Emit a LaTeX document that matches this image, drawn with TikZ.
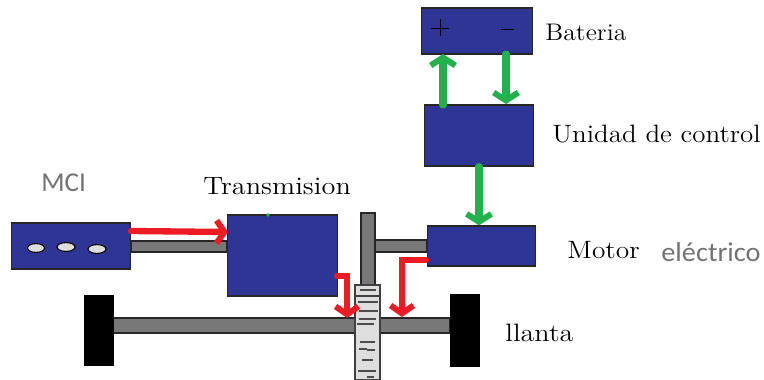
\documentclass[tikz,border=0pt]{standalone}
\usepackage{fontspec}
\usepackage{tikz}
\setsansfont{Carlito}
\usetikzlibrary{arrows.meta}
\definecolor{azulbloque}{RGB}{46,53,148}
\definecolor{grisbarra}{RGB}{120,120,120}
\definecolor{rojoflecha}{RGB}{237,28,36}
\definecolor{verdeflecha}{RGB}{34,177,76}
\tikzset{
  bloque/.style={draw=black!85,thick,fill=azulbloque,inner sep=0pt},
  barra/.style={draw=black!85,thick,fill=grisbarra},
  llanta/.style={fill=black,draw=black},
  rojo/.style={-{Straight Barb[length=4.5pt,width=13pt,line width=3.4pt]},line width=3.6pt,rojoflecha,line cap=round},
  verde/.style={-{Straight Barb[length=4.5pt,width=14pt,line width=3.4pt]},line width=4pt,verdeflecha,line cap=round},
  texto/.style={anchor=west,font=\fontsize{13}{15}\selectfont,inner sep=0pt},
  gristexto/.style={anchor=west,font=\sffamily\fontsize{15.5}{17}\selectfont,text=black!55,inner sep=0pt},
}
\begin{document}
\begin{tikzpicture}[x=0.02cm,y=-0.02cm]
        \useasboundingbox (0,0) rectangle (764,379);
        %barras
        \draw[barra] (131,241) rectangle (227,252);
        \draw[barra] (361,213) rectangle (375,285);
        \draw[barra] (375,240) rectangle (427,252);
        \draw[barra] (113,318) rectangle (450,333);
        \draw[llanta] (84,295) rectangle (113,365);
        \draw[llanta] (450,294) rectangle (479,366);
        %engrane
        \draw[semithick,draw=black!75,fill=black!13] (355,285) rectangle (380,380);
        \draw[semithick,draw=black!75] (355,296) -- (380,296);
        \foreach \y/\a/\b in {290/360/376,302/358/378,311/359/378,319/359/376,324/357/374,342/360/375,349/359/367,350/367/375,360/362/373,371/358/376,377/367/374}
        \draw[semithick,draw=black!70] (\a,\y) -- (\b,\y);
        %bloques
        \node[bloque,minimum width=120pt*0.5669,minimum height=46pt*0.5669] (mci) at (71,246) {};
        \node[bloque,minimum width=111pt*0.5669,minimum height=81pt*0.5669] (transmision) at (282.5,255.5) {};
        \node[bloque,minimum width=109pt*0.5669,minimum height=40pt*0.5669] (motor) at (481.5,246) {};
        \node[bloque,minimum width=110pt*0.5669,minimum height=61pt*0.5669] (unidad) at (479,135.5) {};
        \node[bloque,minimum width=112pt*0.5669,minimum height=46pt*0.5669] (bateria) at (477,31) {};
        %cilindros
        \foreach \x/\y/\w in {36/248/17,66/247/18,97/249/18}
        \draw[semithick,fill=black!13] (\x,\y) ellipse ({\w/2} and 4.4);
        %polos
        \draw[black] (431,28) -- (449,28) (440,19) -- (440,36);
        \draw[black] (501,29) -- (514,29);
        %puntos de las flechas
        \coordinate (mciA) at (131,231);
        \coordinate (transA) at (228,232);
        \coordinate (transB) at (337,276);
        \coordinate (ejeA) at (347,318);
        \coordinate (motorB) at (426,260);
        \coordinate (ejeB) at (402,317);
        \draw[rojo] (mciA) to[] (transA);
        \draw[rojo] (transB) -- (347,276) -- (ejeA);
        \draw[rojo] (motorB) -- (402,260) -- (ejeB);
        \draw[verde] (443,105) -- (443,54);
        \draw[verde] (506,54) -- (506,104);
        \draw[verde] (unidad.south) -- (motor.north -| unidad.south);
        \fill[verdeflecha] (268,215) circle (1.8);
        %textos
        \node[texto,xscale=1.13,yscale=1.05] (tBateria) at (545,32) {Bateria};
        \node[texto,xscale=1.18,yscale=1.1] (tUnidad) at (552,134) {Unidad de control};
        \node[texto,xscale=1.2,yscale=1.1] (tMotor) at (567,250) {Motor};
        \node[gristexto,xscale=1.04] (tElectrico) at (661,252) {eléctrico};
        \node[gristexto] (tMci) at (41,183) {MCI};
        \node[texto,xscale=1.24,yscale=1.1] (tTransmision) at (203,186) {Transmision};
        \node[texto,xscale=1.23,yscale=1.1] (tLlanta) at (505,333) {llanta};
\end{tikzpicture}
\end{document}
